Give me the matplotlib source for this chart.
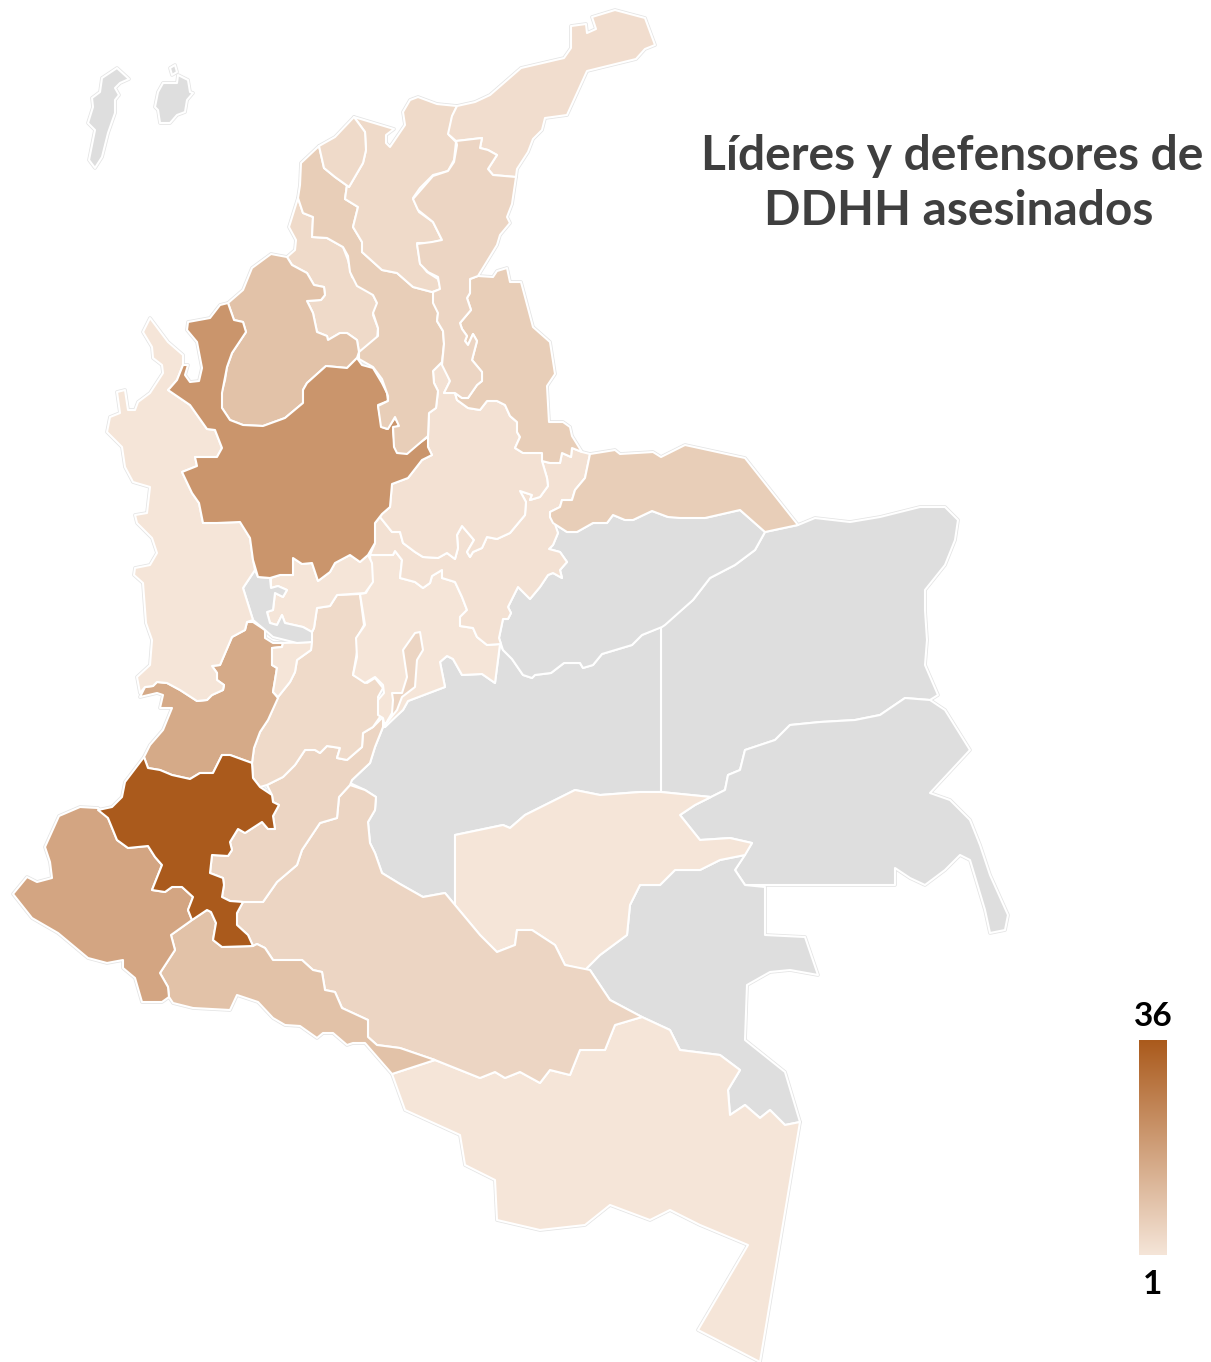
"""Choropleth of human rights leaders killed per Colombian department."""

import numpy as np
import matplotlib
matplotlib.use("Agg")
import matplotlib.pyplot as plt
from matplotlib.colors import LinearSegmentedColormap, Normalize
from matplotlib.patches import Polygon

WIDTH, HEIGHT = 1211, 1362
GREY = "#DEDEDE"

# Department outlines (map units)
SAN_ANDRES = [(117,68),(129,79),(120,83),(115,88),(119,95),(115,100),(115,113),(108,133),(102,157),(95,168),(89,160),(95,130),(88,123),(93,107),(92,98),(100,92),(102,78)]
PROVIDENCIA = [(178,75),(188,80),(190,92),(193,93),(187,100),(185,112),(177,115),(170,123),(160,123),(158,110),(155,107),(158,92),(163,83),(177,83)]
SANTA_CATALINA = [(170,68),(175,65),(177,72),(172,75)]
ATLANTICO = [(354,117),(365,132),(366,150),(363,163),(349,187),(335,177),(324,168),(319,146),(335,137)]
MAGDALENA = [(354,117),(394,129),(386,135),(386,143),(390,147),(405,125),(403,112),(410,100),(418,97),(437,104),(457,106),(452,117),(449,135),(456,142),(454,160),(448,171),(433,175),(420,188),(413,198),(419,212),(433,222),(442,240),(430,243),(417,243),(420,263),(427,272),(438,279),(441,289),(432,292),(413,287),(397,273),(382,270),(362,252),(362,242),(353,227),(358,207),(345,199),(347,185),(349,187),(363,163),(366,150),(365,132)]
CESAR = [(456,141),(482,138),(480,148),(488,150),(497,155),(488,169),(493,175),(516,177),(512,204),(507,217),(510,223),(500,235),(497,245),(478,276),(470,279),(470,293),(467,298),(471,310),(460,323),(462,329),(467,336),(465,341),(468,345),(473,334),(477,341),(472,360),(482,372),(482,381),(477,385),(468,398),(462,398),(455,393),(444,393),(450,381),(442,365),(444,344),(443,331),(437,321),(438,313),(433,303),(433,292),(440,289),(438,277),(428,272),(420,264),(417,244),(432,242),(442,240),(433,222),(418,210),(413,199),(433,176),(448,171),(454,162),(457,145)]
LA_GUAJIRA = [(457,106),(475,102),(490,95),(521,68),(564,58),(571,48),(571,26),(586,24),(587,33),(596,29),(592,17),(615,10),(645,18),(655,45),(645,49),(636,59),(587,71),(567,115),(545,118),(542,130),(533,139),(528,152),(517,169),(516,177),(493,175),(488,169),(497,155),(488,150),(480,148),(482,138),(456,141),(448,134),(452,116)]
NORTE_SANTANDER = [(478,276),(493,277),(497,271),(507,268),(510,282),(521,282),(533,327),(550,342),(555,374),(547,386),(549,422),(563,422),(570,427),(572,436),(582,452),(572,448),(571,457),(562,453),(560,463),(550,463),(542,461),(542,453),(523,453),(515,448),(520,437),(517,432),(517,422),(510,416),(505,405),(497,401),(487,401),(480,410),(468,408),(457,400),(455,393),(462,398),(468,398),(477,385),(482,381),(482,372),(472,360),(477,341),(473,334),(468,345),(465,341),(467,336),(462,329),(460,323),(471,310),(467,298),(470,293),(470,279)]
BOLIVAR = [(319,146),(324,168),(335,177),(349,187),(347,185),(345,199),(358,207),(353,227),(362,242),(362,252),(382,270),(397,273),(413,287),(432,292),(441,289),(433,293),(438,313),(437,321),(443,331),(444,344),(442,362),(433,371),(434,383),(438,391),(436,408),(429,413),(428,436),(407,454),(397,453),(394,447),(393,427),(399,426),(395,417),(388,429),(381,427),(378,406),(388,401),(388,396),(382,379),(373,367),(359,359),(359,352),(378,336),(378,328),(373,313),(377,303),(373,295),(357,286),(350,272),(348,256),(343,247),(327,238),(312,237),(313,217),(303,213),(298,198),(300,185),(301,163)]
SUCRE = [(298,198),(303,213),(313,217),(312,237),(327,238),(343,247),(348,260),(352,277),(373,295),(378,305),(373,315),(378,328),(377,340),(359,352),(357,340),(347,333),(340,333),(328,340),(327,336),(317,332),(313,313),(307,301),(321,300),(325,295),(324,287),(314,285),(307,273),(292,265),(287,257),(295,250),(296,240),(289,227)]
CORDOBA = [(271,254),(287,257),(292,265),(307,273),(314,285),(324,287),(325,295),(321,300),(307,301),(313,313),(317,332),(327,336),(328,340),(340,333),(347,333),(357,340),(359,352),(357,358),(347,368),(326,366),(307,383),(303,390),(303,403),(285,418),(263,426),(243,425),(230,420),(222,408),(220,398),(225,380),(227,367),(232,353),(246,332),(243,322),(234,320),(228,303),(243,290),(252,268)]
ANTIOQUIA = [(228,303),(234,320),(243,322),(246,332),(232,353),(227,367),(222,393),(222,408),(230,420),(243,425),(263,426),(285,418),(303,403),(303,390),(307,383),(326,366),(347,368),(357,358),(362,365),(373,368),(382,383),(387,393),(388,401),(378,405),(382,427),(387,429),(395,418),(399,425),(393,430),(395,448),(405,453),(428,437),(428,447),(432,455),(422,460),(408,478),(392,484),(390,507),(382,514),(375,523),(375,543),(368,555),(360,562),(350,555),(335,563),(330,572),(318,581),(312,563),(302,564),(293,558),(293,575),(280,575),(270,578),(258,577),(253,560),(250,538),(240,522),(217,523),(203,523),(199,503),(192,493),(182,472),(197,466),(195,457),(217,457),(222,448),(215,430),(207,429),(190,405),(168,390),(170,388),(177,380),(183,365),(188,365),(185,375),(190,382),(199,381),(202,368),(197,342),(187,330),(188,322),(210,318),(220,305)]
CHOCO = [(150,318),(168,342),(183,355),(183,365),(177,380),(170,388),(168,390),(190,405),(207,429),(215,430),(222,448),(217,457),(195,457),(197,466),(182,472),(192,493),(199,503),(203,523),(217,523),(240,522),(250,538),(253,560),(255,570),(243,588),(253,620),(247,622),(245,630),(232,637),(220,665),(212,666),(217,673),(217,680),(224,685),(223,690),(212,695),(207,700),(197,701),(180,690),(167,683),(157,682),(153,686),(145,687),(140,693),(137,677),(150,665),(152,640),(146,623),(143,583),(134,575),(135,568),(150,565),(157,553),(152,538),(137,523),(135,515),(147,513),(150,487),(133,482),(125,467),(122,447),(107,432),(110,417),(120,413),(117,392),(125,390),(128,410),(135,410),(138,402),(150,393),(163,373),(162,365),(153,358),(152,347),(143,332)]
VALLE = [(253,622),(265,630),(265,638),(273,643),(283,643),(282,647),(272,648),(272,665),(277,668),(273,692),(278,698),(268,720),(260,732),(254,748),(252,763),(230,755),(222,755),(213,773),(200,773),(190,779),(172,775),(160,770),(148,768),(144,757),(150,745),(163,730),(172,708),(160,708),(163,695),(157,693),(140,697),(145,687),(153,686),(157,682),(167,683),(180,690),(197,701),(207,700),(212,695),(223,690),(224,685),(217,680),(217,673),(212,666),(220,665),(232,637),(245,630),(247,622)]
CAUCA = [(144,757),(148,768),(160,770),(172,775),(190,779),(200,773),(213,773),(222,755),(230,755),(252,763),(253,778),(260,787),(272,795),(273,802),(279,805),(273,816),(275,829),(268,829),(262,822),(245,833),(238,829),(230,842),(232,850),(228,856),(212,855),(210,873),(223,878),(224,885),(222,897),(230,901),(243,902),(237,913),(237,925),(248,935),(253,946),(222,947),(213,940),(216,923),(211,912),(207,910),(192,920),(188,910),(193,897),(182,887),(172,887),(165,892),(152,890),(162,865),(155,857),(148,846),(128,848),(117,840),(108,818),(98,810),(112,807),(122,797),(125,782)]
NARINO = [(98,808),(80,807),(59,816),(45,847),(50,862),(52,878),(37,882),(27,877),(13,894),(32,918),(58,933),(88,958),(107,963),(123,960),(123,968),(135,978),(142,1002),(162,1002),(169,997),(168,987),(160,973),(175,950),(171,935),(192,920),(188,910),(193,897),(182,887),(172,887),(165,892),(152,890),(162,865),(155,857),(148,846),(128,848),(117,840),(108,818)]
PUTUMAYO = [(192,920),(207,910),(211,912),(216,923),(213,940),(222,947),(253,946),(257,944),(265,948),(273,960),(302,960),(313,970),(322,972),(325,990),(335,992),(342,1008),(368,1020),(368,1037),(377,1045),(400,1048),(435,1060),(392,1074),(365,1043),(353,1043),(347,1045),(333,1033),(323,1033),(317,1038),(300,1026),(285,1025),(273,1018),(258,1002),(237,995),(230,1010),(193,1008),(173,1003),(169,997),(168,987),(160,973),(175,950),(171,935)]
CAQUETA = [(350,785),(365,790),(376,797),(375,810),(368,822),(370,843),(375,853),(382,873),(400,884),(423,897),(445,893),(455,905),(480,935),(497,952),(515,945),(517,930),(532,930),(555,945),(565,965),(590,970),(610,1000),(642,1017),(615,1025),(605,1050),(580,1050),(570,1075),(550,1070),(540,1083),(520,1072),(505,1078),(495,1072),(480,1078),(435,1060),(400,1048),(377,1045),(368,1037),(368,1020),(342,1008),(335,992),(325,990),(322,972),(313,970),(302,960),(273,960),(265,948),(257,944),(253,946),(248,935),(237,925),(237,913),(243,902),(263,902),(277,882),(297,865),(302,850),(320,823),(337,818),(339,797)]
HUILA = [(243,902),(230,901),(222,897),(224,885),(223,878),(210,873),(212,855),(228,856),(232,850),(230,842),(238,829),(245,833),(262,822),(268,829),(275,829),(273,816),(279,805),(273,802),(272,795),(267,785),(283,777),(295,765),(305,750),(315,750),(320,753),(327,746),(340,748),(337,758),(347,760),(362,747),(363,733),(373,727),(383,717),(383,727),(375,747),(370,763),(352,780),(350,785),(339,797),(337,818),(320,823),(302,850),(297,865),(277,882),(263,902)]
TOLIMA = [(317,608),(330,606),(337,595),(360,594),(364,625),(357,638),(357,652),(353,675),(363,680),(367,683),(375,678),(383,688),(378,697),(380,717),(373,727),(363,733),(362,747),(347,760),(337,758),(340,748),(327,746),(320,753),(315,750),(305,750),(295,765),(283,777),(267,785),(260,787),(253,778),(252,763),(254,748),(260,732),(268,720),(278,697),(290,682),(295,672),(297,660),(311,650),(312,632),(314,628)]
QUINDIO = [(283,643),(312,642),(311,650),(297,660),(295,672),(290,682),(278,697),(273,692),(277,668),(272,665),(272,648),(282,647)]
RISARALDA = [(255,570),(258,577),(270,578),(271,588),(278,586),(287,590),(283,597),(275,593),(273,610),(267,612),(270,623),(277,625),(282,615),(285,623),(303,627),(312,632),(312,642),(297,643),(273,637),(265,630),(253,620),(243,588)]
CALDAS = [(271,578),(280,575),(293,575),(293,558),(302,564),(312,563),(318,581),(330,572),(335,563),(350,555),(360,562),(368,555),(372,563),(373,582),(365,593),(337,595),(330,606),(317,608),(314,628),(312,632),(303,627),(285,623),(282,615),(277,625),(270,623),(267,612),(273,610),(275,593),(283,597),(287,590),(278,586),(271,588)]
CUNDINAMARCA = [(370,555),(393,555),(395,551),(402,560),(400,578),(415,582),(423,588),(430,583),(432,576),(442,570),(442,578),(455,582),(462,597),(467,610),(460,617),(460,626),(473,628),(477,637),(487,645),(500,644),(495,683),(482,674),(462,675),(453,659),(447,656),(440,662),(445,687),(408,701),(403,710),(385,727),(383,718),(378,715),(378,700),(384,693),(383,685),(375,677),(365,683),(353,675),(357,657),(356,638),(365,625),(360,594),(366,593),(372,582)]
BOGOTA = [(420,632),(423,650),(417,660),(415,687),(402,697),(397,710),(385,725),(392,713),(393,700),(392,693),(402,693),(407,677),(403,650),(415,633)]
SANTANDER = [(442,362),(450,381),(444,393),(455,393),(457,400),(468,408),(480,410),(487,401),(497,401),(505,405),(510,416),(517,422),(517,432),(520,437),(515,448),(523,453),(542,453),(542,461),(547,478),(548,486),(540,497),(530,500),(532,495),(520,491),(526,502),(525,515),(510,533),(497,539),(487,537),(482,548),(473,552),(470,557),(467,552),(474,540),(462,526),(457,535),(458,548),(455,559),(447,553),(438,558),(423,557),(415,552),(403,543),(400,532),(392,532),(380,517),(382,514),(390,507),(392,484),(408,478),(422,460),(432,455),(428,447),(428,437),(429,413),(436,408),(438,391),(434,383),(433,371)]
BOYACA = [(542,461),(550,463),(560,463),(562,453),(571,457),(572,448),(582,452),(590,454),(585,478),(575,490),(572,500),(562,500),(560,507),(550,512),(550,517),(555,524),(558,533),(553,545),(549,549),(560,552),(567,562),(560,570),(562,578),(553,573),(548,575),(540,587),(530,599),(518,587),(508,607),(511,613),(508,619),(503,619),(499,638),(501,644),(487,645),(477,637),(473,628),(460,626),(460,617),(467,610),(462,597),(455,582),(442,578),(442,570),(432,576),(430,583),(423,588),(415,582),(400,578),(402,560),(395,551),(393,555),(370,555),(375,543),(375,523),(380,517),(392,532),(400,532),(403,543),(415,552),(423,557),(438,558),(447,553),(455,559),(458,548),(457,535),(462,526),(474,540),(467,552),(470,557),(473,552),(482,548),(487,537),(497,539),(510,533),(525,515),(526,502),(520,491),(532,495),(530,500),(540,497),(548,486),(547,478)]
ARAUCA = [(590,454),(615,450),(620,454),(653,452),(661,457),(685,445),(745,458),(798,525),(765,532),(740,510),(705,518),(680,518),(668,517),(652,511),(633,520),(625,520),(613,515),(607,523),(593,523),(577,532),(567,532),(553,523),(550,517),(550,512),(560,507),(562,500),(572,500),(575,490),(585,478)]
CASANARE = [(553,523),(567,532),(577,532),(593,523),(607,523),(613,515),(625,520),(633,520),(652,511),(668,517),(705,518),(740,510),(765,532),(755,550),(735,565),(710,578),(693,600),(665,625),(662,627),(642,635),(632,645),(602,654),(593,665),(583,668),(580,663),(564,663),(551,673),(535,675),(532,678),(523,675),(512,659),(503,650),(499,638),(503,619),(508,619),(511,613),(508,607),(518,587),(530,599),(540,587),(548,575),(553,573),(562,578),(560,570),(567,562),(560,552),(549,549),(553,545),(558,533)]
VICHADA = [(765,532),(798,525),(815,518),(850,522),(880,517),(920,507),(945,507),(958,520),(955,540),(945,565),(925,590),(925,610),(927,640),(925,665),(938,695),(930,700),(905,698),(880,715),(855,720),(820,722),(790,725),(775,740),(745,750),(740,770),(728,775),(725,790),(711,797),(661,792),(661,627),(693,600),(710,578),(735,565),(755,550)]
META = [(503,650),(512,659),(523,675),(532,678),(535,675),(551,673),(564,663),(580,663),(583,668),(593,665),(602,654),(632,645),(642,635),(661,627),(661,792),(640,792),(600,795),(575,790),(545,805),(525,815),(510,828),(503,825),(455,835),(455,905),(445,893),(423,897),(400,884),(382,873),(375,853),(370,843),(368,822),(375,810),(376,797),(365,790),(350,783),(352,780),(370,763),(375,747),(383,727),(385,727),(397,715),(403,710),(408,701),(445,687),(440,662),(447,656),(453,659),(462,675),(482,674),(495,683),(500,644)]
GUAVIARE = [(455,835),(503,825),(510,828),(525,815),(545,805),(575,790),(600,795),(640,792),(661,792),(711,797),(695,805),(680,815),(700,840),(730,838),(752,843),(745,855),(720,860),(700,870),(675,870),(660,885),(640,885),(630,905),(627,935),(600,955),(585,970),(565,965),(555,945),(532,930),(517,930),(515,945),(497,952),(480,935),(455,905)]
GUAINIA = [(711,797),(725,790),(728,775),(740,770),(745,750),(775,740),(790,725),(820,722),(855,720),(880,715),(905,698),(930,700),(945,710),(970,750),(930,793),(950,800),(970,820),(980,845),(990,875),(1008,915),(1005,930),(990,933),(985,910),(970,860),(960,855),(945,870),(925,885),(910,878),(895,868),(895,885),(770,885),(745,885),(735,870),(752,843),(730,838),(700,840),(680,815),(695,805)]
VAUPES = [(745,855),(735,870),(745,885),(765,887),(765,935),(805,937),(818,975),(790,970),(770,972),(747,985),(745,1040),(785,1072),(800,1122),(785,1125),(770,1110),(760,1118),(745,1105),(730,1115),(728,1090),(740,1070),(720,1055),(680,1050),(670,1030),(642,1017),(610,1000),(590,970),(585,970),(600,955),(627,935),(630,905),(640,885),(660,885),(675,870),(700,870),(720,860)]
AMAZONAS = [(392,1074),(435,1060),(480,1078),(495,1072),(505,1078),(520,1072),(540,1083),(550,1070),(570,1075),(580,1050),(605,1050),(615,1025),(642,1017),(670,1030),(680,1050),(720,1055),(740,1070),(728,1090),(730,1115),(745,1105),(760,1118),(770,1110),(785,1125),(800,1122),(760,1362),(698,1330),(748,1245),(700,1225),(670,1210),(650,1220),(610,1205),(585,1225),(540,1230),(497,1220),(495,1180),(465,1165),(460,1135),(405,1110)]

# Killed per department, None where the map shows no data
OUTLINES = [SAN_ANDRES, PROVIDENCIA, SANTA_CATALINA, VICHADA, META, CASANARE, GUAINIA, VAUPES,
            GUAVIARE, AMAZONAS, CAQUETA, PUTUMAYO, NARINO, HUILA, TOLIMA, VALLE, QUINDIO, CAUCA,
            CUNDINAMARCA, BOGOTA, BOYACA, SANTANDER, ARAUCA, CALDAS, RISARALDA, CHOCO, SUCRE,
            CORDOBA, ANTIOQUIA, BOLIVAR, MAGDALENA, ATLANTICO, LA_GUAJIRA, NORTE_SANTANDER, CESAR]
VALUES = [None, None, None, None, None, None, None, None,
          1, 1, 5, 10, 17, 5, 4, 16, 1, 36,
          1, 5, 2, 2, 7, 1, None, 1, 4,
          10, 21, 7, 4, 4, 3, 7, 5]

TITLE_LINES = ["Líderes y defensores de", "DDHH asesinados"]
SCALE_MIN, SCALE_MAX = 1, 36

cmap = LinearSegmentedColormap.from_list("brown", ["#F5E5D8", "#AA5A1C"])
norm = Normalize(SCALE_MIN, SCALE_MAX)

fig = plt.figure(figsize=(WIDTH / 100, HEIGHT / 100), dpi=100)
ax = fig.add_axes([0, 0, 1, 1])
ax.set_xlim(0, WIDTH)
ax.set_ylim(HEIGHT, 0)
ax.axis("off")

for outline, value in zip(OUTLINES, VALUES):
    # faint halo under the white border, it shows only along the coast
    ax.add_patch(Polygon(outline, closed=True, facecolor="none", edgecolor="#E4E4E4",
                         linewidth=2.6, joinstyle="round", zorder=1))
for outline, value in zip(OUTLINES, VALUES):
    color = GREY if value is None else cmap(norm(value))
    ax.add_patch(Polygon(outline, closed=True, facecolor=color, edgecolor="white",
                         linewidth=1.5, joinstyle="round", zorder=2))

for text, x, y in zip(TITLE_LINES, [952, 959], [156, 211]):
    ax.text(x, y, text, ha="center", va="center", fontsize=34.5, fontweight="bold",
            family="Lato", color="#3F3F3F")

# Colour scale
cax = fig.add_axes([1139 / WIDTH, 1 - 1255 / HEIGHT, 28 / WIDTH, 215 / HEIGHT])
cax.imshow(np.linspace(1, 0, 256).reshape(-1, 1), cmap=cmap, aspect="auto")
cax.axis("off")
ax.text(1153, 1017, str(SCALE_MAX), ha="center", va="center", fontsize=24, fontweight="bold",
        family="Lato", color="black")
ax.text(1153, 1285, str(SCALE_MIN), ha="center", va="center", fontsize=24, fontweight="bold",
        family="Lato", color="black")

fig.savefig("out.png", dpi=100)
